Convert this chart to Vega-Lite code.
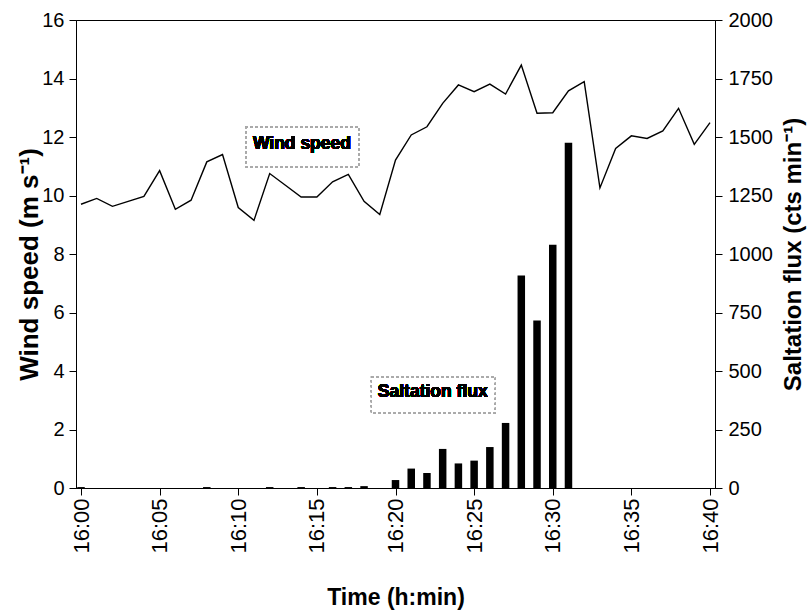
{
  "$schema": "https://vega.github.io/schema/vega-lite/v6.json",
  "width": 639,
  "height": 468,
  "autosize": {"type": "none"},
  "padding": {"left": 76, "top": 20, "right": 92, "bottom": 126},
  "background": "white",
  "config": {
    "view": {"stroke": "black", "strokeWidth": 1},
    "axis": {
      "grid": false,
      "domainColor": "black",
      "tickColor": "black",
      "labelColor": "black",
      "titleColor": "black",
      "labelFont": "Liberation Sans",
      "titleFont": "Liberation Sans",
      "labelFontSize": 20,
      "labelFontWeight": "normal",
      "titleFontSize": 26,
      "titleFontWeight": "bold",
      "tickSize": 7,
      "domainWidth": 1,
      "tickWidth": 1
    }
  },
  "layer": [
    {
      "data": {
        "values": [
          {"minute": 0, "flux": 4},
          {"minute": 8, "flux": 4},
          {"minute": 12, "flux": 4},
          {"minute": 14, "flux": 4},
          {"minute": 16, "flux": 4},
          {"minute": 17, "flux": 4},
          {"minute": 18, "flux": 8},
          {"minute": 20, "flux": 34},
          {"minute": 21, "flux": 83},
          {"minute": 22, "flux": 64},
          {"minute": 23, "flux": 167},
          {"minute": 24, "flux": 105},
          {"minute": 25, "flux": 117},
          {"minute": 26, "flux": 175},
          {"minute": 27, "flux": 278},
          {"minute": 28, "flux": 908},
          {"minute": 29, "flux": 716},
          {"minute": 30, "flux": 1040},
          {"minute": 31, "flux": 1475}
        ]
      },
      "mark": {"type": "bar", "color": "black", "size": 7.5, "clip": true},
      "encoding": {
        "x": {
          "field": "minute",
          "type": "quantitative",
          "scale": {"domain": [0, 40], "nice": false, "zero": false},
          "axis": {
            "values": [0, 5, 10, 15, 20, 25, 30, 35, 40],
            "labelExpr": "'16:' + (datum.value < 10 ? '0' : '') + datum.value",
            "labelAngle": -90,
            "labelAlign": "right",
            "labelBaseline": "middle",
            "labelPadding": 3,
            "labelFontSize": 22,
            "title": "Time (h:min)",
            "titleFontSize": 23,
            "titleX": 319.5,
            "titleY": 109,
            "titleBaseline": "middle"
          }
        },
        "y": {
          "field": "flux",
          "type": "quantitative",
          "scale": {"domain": [0, 2000], "nice": false},
          "axis": {
            "orient": "right",
            "values": [0, 250, 500, 750, 1000, 1250, 1500, 1750, 2000],
            "format": "d",
            "labelPadding": 6,
            "title": "Saltation flux (cts min⁻¹)",
            "titleFontSize": 24,
            "titleAngle": 270,
            "titleX": 78,
            "titleY": 234,
            "titleBaseline": "middle",
            "titleAlign": "center"
          }
        }
      }
    },
    {
      "data": {
        "values": [
          {"minute": 0, "wind": 9.70},
          {"minute": 1, "wind": 9.90},
          {"minute": 2, "wind": 9.63},
          {"minute": 3, "wind": 9.80},
          {"minute": 4, "wind": 9.97},
          {"minute": 5, "wind": 10.85},
          {"minute": 6, "wind": 9.53},
          {"minute": 7, "wind": 9.84},
          {"minute": 8, "wind": 11.15},
          {"minute": 9, "wind": 11.40},
          {"minute": 10, "wind": 9.59},
          {"minute": 11, "wind": 9.15},
          {"minute": 12, "wind": 10.75},
          {"minute": 13, "wind": 10.35},
          {"minute": 14, "wind": 9.95},
          {"minute": 15, "wind": 9.95},
          {"minute": 16, "wind": 10.47},
          {"minute": 17, "wind": 10.72},
          {"minute": 18, "wind": 9.80},
          {"minute": 19, "wind": 9.35},
          {"minute": 20, "wind": 11.21},
          {"minute": 21, "wind": 12.07},
          {"minute": 22, "wind": 12.35},
          {"minute": 23, "wind": 13.15},
          {"minute": 24, "wind": 13.78},
          {"minute": 25, "wind": 13.55},
          {"minute": 26, "wind": 13.81},
          {"minute": 27, "wind": 13.47},
          {"minute": 28, "wind": 14.46},
          {"minute": 29, "wind": 12.81},
          {"minute": 30, "wind": 12.83},
          {"minute": 31, "wind": 13.58},
          {"minute": 32, "wind": 13.89},
          {"minute": 33, "wind": 10.26},
          {"minute": 34, "wind": 11.61},
          {"minute": 35, "wind": 12.04},
          {"minute": 36, "wind": 11.95},
          {"minute": 37, "wind": 12.21},
          {"minute": 38, "wind": 12.98},
          {"minute": 39, "wind": 11.75},
          {"minute": 40, "wind": 12.49}
        ]
      },
      "layer": [
        {
          "mark": {"type": "line", "color": "black", "strokeWidth": 1.4},
          "encoding": {
            "x": {
              "field": "minute",
              "type": "quantitative",
              "scale": {"domain": [0, 40], "nice": false, "zero": false}
            },
            "y": {
              "field": "wind",
              "type": "quantitative",
              "scale": {"domain": [0, 16], "nice": false},
              "axis": {
                "orient": "left",
                "values": [0, 2, 4, 6, 8, 10, 12, 14, 16],
                "labelPadding": 5,
                "title": "Wind speed (m s⁻¹)",
                "titleAngle": -90,
                "titleX": -47,
                "titleY": 244,
                "titleBaseline": "middle",
                "titleAlign": "center"
              }
            }
          }
        },
        {
          "mark": {"type": "rect", "filled": false, "stroke": "#aaaaaa", "strokeWidth": 1, "strokeDash": [2, 3]},
          "encoding": {
            "x": {"datum": 10.47, "type": "quantitative"},
            "x2": {"datum": 17.67},
            "y": {"datum": 10.98, "type": "quantitative"},
            "y2": {"datum": 12.35}
          }
        },
        {
          "mark": {"type": "rect", "filled": false, "stroke": "#aaaaaa", "strokeWidth": 1, "strokeDash": [2, 3]},
          "encoding": {
            "x": {"datum": 18.47, "type": "quantitative"},
            "x2": {"datum": 26.35},
            "y": {"datum": 2.56, "type": "quantitative"},
            "y2": {"datum": 3.80}
          }
        },
        {
          "mark": {"type": "text", "text": "Wind speed", "font": "Liberation Sans", "fontWeight": "bold", "fontSize": 17.5, "color": "black", "align": "center", "baseline": "middle"},
          "encoding": {
            "x": {"datum": 14.05, "type": "quantitative"},
            "y": {"datum": 11.76, "type": "quantitative"}
          }
        },
        {
          "mark": {"type": "text", "text": "Saltation flux", "font": "Liberation Sans", "fontWeight": "bold", "fontSize": 17.5, "color": "black", "align": "center", "baseline": "middle"},
          "encoding": {
            "x": {"datum": 22.37, "type": "quantitative"},
            "y": {"datum": 3.28, "type": "quantitative"}
          }
        }
      ]
    }
  ],
  "resolve": {"scale": {"y": "independent"}}
}
